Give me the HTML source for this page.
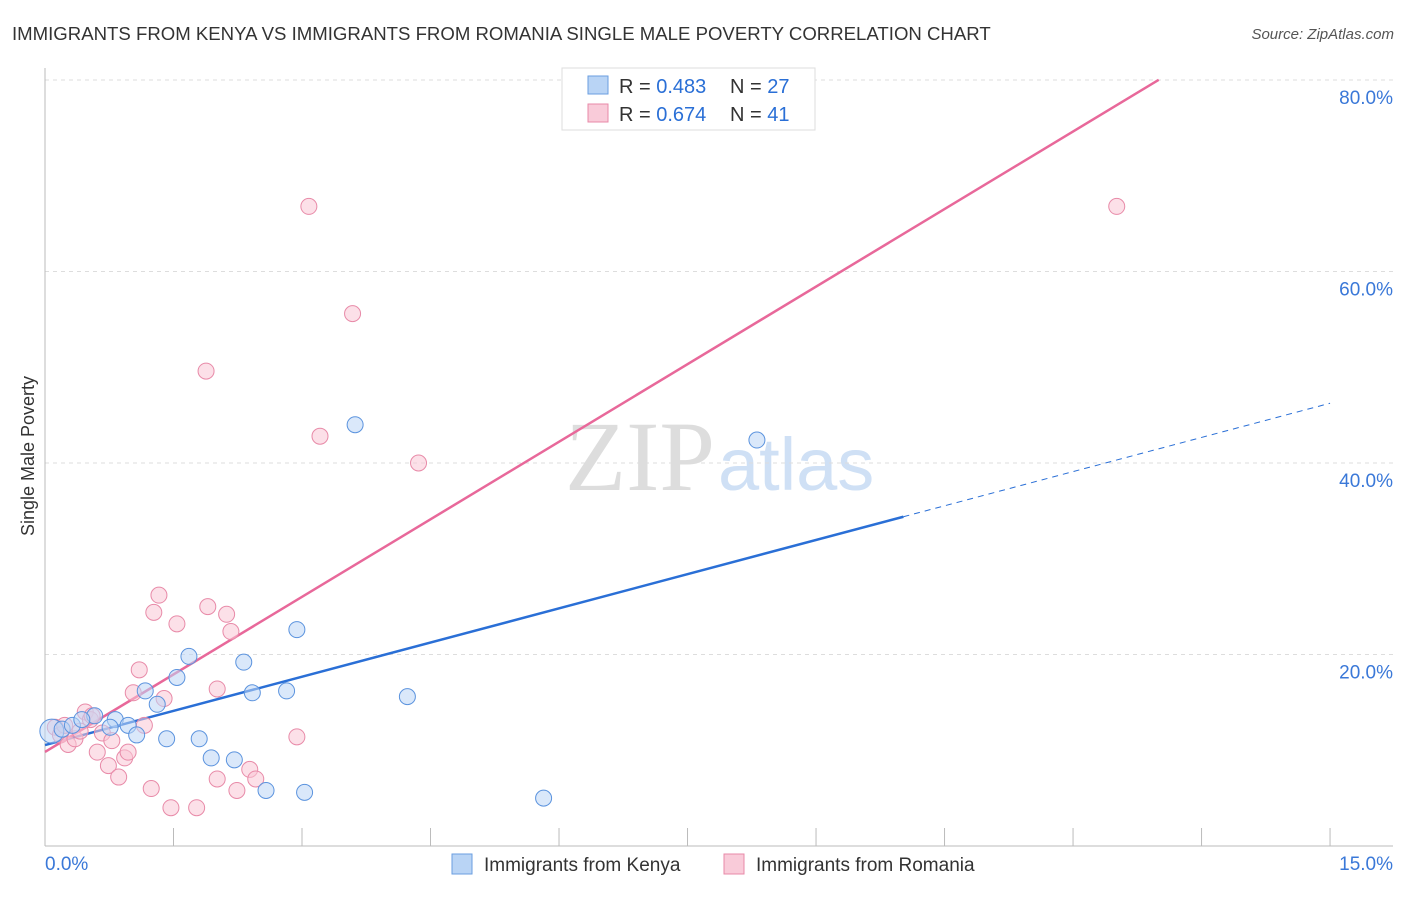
<!DOCTYPE html>
<html><head><meta charset="utf-8"><style>
body{margin:0;background:#fff;font-family:"Liberation Sans",sans-serif;}
</style></head><body>
<svg id="chart" width="1406" height="892" xmlns="http://www.w3.org/2000/svg">
<text x="12" y="40" font-size="18.6" fill="#333">IMMIGRANTS FROM KENYA VS IMMIGRANTS FROM ROMANIA SINGLE MALE POVERTY CORRELATION CHART</text>
<text x="1394" y="39" font-size="15" fill="#555" font-style="italic" text-anchor="end">Source: ZipAtlas.com</text>
<text x="715" y="490" font-size="100" fill="#ddd" text-anchor="end" font-family="Liberation Serif">ZIP</text>
<text x="718" y="490" font-size="74" fill="#cfe0f5">atlas</text>
<g id="grid"></g><g id="axes"></g><g id="lines"></g><g id="pts"></g>
<text transform="translate(34,456) rotate(-90)" font-size="18" fill="#333" text-anchor="middle">Single Male Poverty</text>
<g>
<rect x="562" y="68" width="253" height="62" fill="#fff" stroke="#ddd"/>
<rect x="588" y="76" width="20" height="18" fill="#b9d4f5" stroke="#6a9ee0"/>
<text y="93" font-size="20" fill="#333"><tspan x="619">R = </tspan><tspan fill="#2a6fd6">0.483</tspan><tspan x="730">N = </tspan><tspan fill="#2a6fd6">27</tspan></text>
<rect x="588" y="104" width="20" height="18" fill="#f9cbd9" stroke="#e88aa8"/>
<text y="121" font-size="20" fill="#333"><tspan x="619">R = </tspan><tspan fill="#2a6fd6">0.674</tspan><tspan x="730">N = </tspan><tspan fill="#2a6fd6">41</tspan></text>
</g>
<g><rect x="452" y="854" width="20" height="20" fill="#b9d4f5" stroke="#6a9ee0"/><text x="484" y="871" font-size="19" fill="#333">Immigrants from Kenya</text></g>
<g><rect x="724" y="854" width="20" height="20" fill="#f9cbd9" stroke="#e88aa8"/><text x="756" y="871" font-size="19" fill="#333">Immigrants from Romania</text></g>
</svg>
<script>
const kenyaX=[0.08,0.2,0.32,0.58,0.43,0.82,0.97,1.07,1.17,1.31,1.42,1.54,1.68,1.8,1.94,2.21,2.32,2.42,2.58,2.82,2.94,3.03,3.62,4.23,5.82,8.31,0.76];
const kenyaY=[12.0,12.2,12.6,13.6,13.2,13.2,12.6,11.6,16.2,14.8,11.2,17.6,19.8,11.2,9.2,9.0,19.2,16.0,5.8,16.2,22.6,5.6,44.0,15.6,5.0,42.4,12.4];
const romX=[0.12,0.18,0.27,0.35,0.47,0.53,0.61,0.67,0.74,0.78,0.86,0.93,0.97,1.03,1.10,1.16,1.24,1.27,1.33,1.39,1.47,1.54,1.77,1.88,1.90,2.01,2.01,2.12,2.17,2.24,2.39,2.46,2.94,3.08,3.21,3.59,4.36,12.51,0.23,0.41,0.55];
const romY=[12.4,11.6,10.6,11.2,14.0,13.2,9.8,11.8,8.4,11.0,7.2,9.2,9.8,16.0,18.4,12.6,6.0,24.4,26.2,15.4,4.0,23.2,4.0,49.6,25.0,16.4,7.0,24.2,22.4,5.8,8.0,7.0,11.4,66.8,42.8,55.6,40.0,66.8,12.6,12.0,13.6];
const kenyaLine=[10.54,2.38,10.02,15.0];
const romLine=[9.82,5.40,13.0];
const yTicks=[20,40,60,80];
const yTickLabels=["20.0%","40.0%","60.0%","80.0%"];
const xTicks=[0,1.5,3,4.5,6,7.5,9,10.5,12,13.5,15];
const NS="http://www.w3.org/2000/svg";
const sx=v=>45+v*85.67, sy=v=>846-v*9.575;
function mk(parent,tag,attrs){const e=document.createElementNS(NS,tag);for(const k in attrs)e.setAttribute(k,attrs[k]);document.getElementById(parent).appendChild(e);return e;}
yTicks.forEach((t,i)=>{
 const l=mk('grid','line',{x1:45,x2:1393,y1:sy(t),y2:sy(t),stroke:'#ddd','stroke-dasharray':'4,4'});
 
 
 const tx=mk('grid','text',{x:1393,y:sy(t)+24,'font-size':19,fill:'#3a78d8','text-anchor':'end'});
 tx.textContent=yTickLabels[i];
 
 
});
const ax=mk('axes','line',{x1:45,x2:45,y1:68,y2:846,stroke:'#bbb'});


const xa=mk('axes','line',{x1:45,x2:1393,y1:846,y2:846,stroke:'#bbb'});


xTicks.forEach(t=>{const l=mk('axes','line',{x1:sx(t),x2:sx(t),y1:828,y2:846,stroke:'#bbb'});
 
 });
const x0=mk('axes','text',{x:45,y:870,'font-size':19,fill:'#3a78d8'});x0.textContent='0.0%';


const x1=mk('axes','text',{x:1393,y:870,'font-size':19,fill:'#3a78d8','text-anchor':'end'});x1.textContent='15.0%';


function pts(X,Y,fill,stroke,name){X.forEach((x,i)=>{const c=mk('pts','circle',{cx:sx(x),cy:sy(Y[i]),r:i===0&&name==='kenya-point'?12:8,fill:fill,'fill-opacity':0.55,stroke:stroke,'stroke-width':1});
 
 });}
pts(romX,romY,'#f9c6d6','#e88aa8','romania-point');
pts(kenyaX,kenyaY,'#bcd5f5','#5b93de','kenya-point');
const f=(L,x)=>L[0]+L[1]*x;
let l=mk('lines','line',{x1:sx(0),y1:sy(f(kenyaLine,0)),x2:sx(kenyaLine[2]),y2:sy(f(kenyaLine,kenyaLine[2])),stroke:'#2a6fd6','stroke-width':2.5});


l=mk('lines','line',{x1:sx(kenyaLine[2]),y1:sy(f(kenyaLine,kenyaLine[2])),x2:sx(kenyaLine[3]),y2:sy(f(kenyaLine,kenyaLine[3])),stroke:'#2a6fd6','stroke-width':1,'stroke-dasharray':'6,5'});


l=mk('lines','line',{x1:sx(0),y1:sy(f(romLine,0)),x2:sx(romLine[2]),y2:sy(f(romLine,romLine[2])),stroke:'#e8689a','stroke-width':2.5});


</script>
</body></html>
